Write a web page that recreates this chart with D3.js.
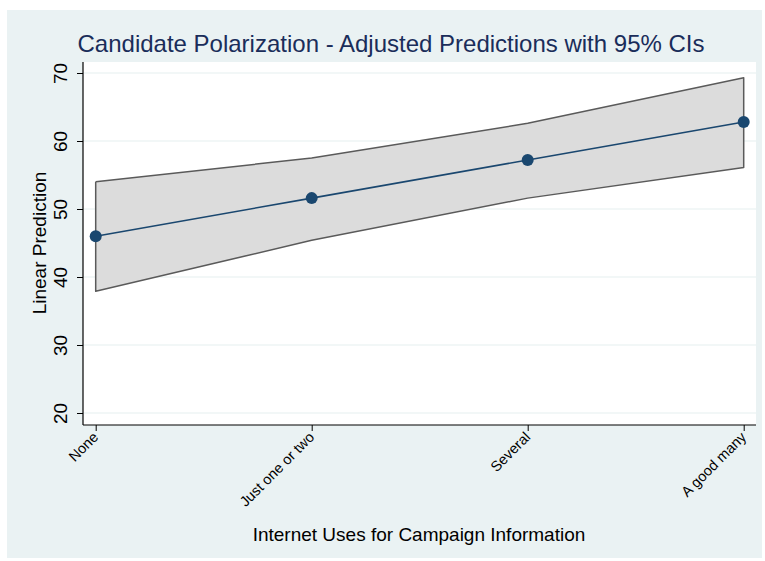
<!DOCTYPE html>
<html>
<head>
<meta charset="utf-8">
<script src="https://cdn.jsdelivr.net/npm/d3@7"></script>
<style>
  html, body { margin: 0; padding: 0; background: #ffffff; }
  svg { display: block; font-family: "Liberation Sans", Arial, Helvetica, sans-serif; }
</style>
</head>
<body>
<svg id="chart" width="765" height="561"></svg>
<script>
// Adjusted predictions of candidate polarization by internet use level
const categories = ["None", "Just one or two", "Several", "A good many"];
const predicted = [46.0, 51.6, 57.2, 62.8];
const ciUpper = [54.0, 57.5, 62.6, 69.3];
const ciLower = [37.9, 45.4, 51.6, 56.1];
const yTicks = [20, 30, 40, 50, 60, 70];

const svg = d3.select("#chart");
const FONT = "'Liberation Sans', Arial, Helvetica, sans-serif";

// Graph region background
svg.append("rect")
  .attr("x", 7).attr("y", 10)
  .attr("width", 755).attr("height", 548)
  .attr("fill", "#eaf2f3");

const plot = { left: 83, right: 756, top: 62, bottom: 425 };

svg.append("rect")
  .attr("x", plot.left).attr("y", plot.top)
  .attr("width", plot.right - plot.left).attr("height", plot.bottom - plot.top)
  .attr("fill", "#ffffff");

const x = d3.scalePoint()
  .domain(categories)
  .range([95.7, 743.7]);

const y = d3.scaleLinear()
  .domain([20, 70])
  .range([413, 73]);

// Horizontal grid lines
svg.append("g")
  .selectAll("line")
  .data(yTicks)
  .join("line")
  .attr("x1", plot.left).attr("x2", plot.right)
  .attr("y1", d => y(d)).attr("y2", d => y(d))
  .attr("stroke", "#e6f0f0")
  .attr("stroke-width", 1.2);

// Confidence band
const rows = categories.map((c, i) => ({ c, lo: ciLower[i], hi: ciUpper[i], p: predicted[i] }));
const band = d3.area()
  .x(d => x(d.c))
  .y0(d => y(d.lo))
  .y1(d => y(d.hi));

svg.append("path")
  .datum(rows)
  .attr("d", band)
  .attr("fill", "#dcdcdc")
  .attr("stroke", "none");

// Band outline (upper edge, right side, lower edge, left side)
const outline = d3.line().x(d => d[0]).y(d => d[1]);
const ring = rows.map(d => [x(d.c), y(d.hi)])
  .concat(rows.slice().reverse().map(d => [x(d.c), y(d.lo)]));
ring.push(ring[0]);
svg.append("path")
  .datum(ring)
  .attr("d", outline)
  .attr("fill", "none")
  .attr("stroke", "#5a5a5a")
  .attr("stroke-width", 1.5)
  .attr("stroke-linejoin", "round");

// Prediction line and markers
const navy = "#1a476f";
svg.append("path")
  .datum(rows)
  .attr("d", d3.line().x(d => x(d.c)).y(d => y(d.p)))
  .attr("fill", "none")
  .attr("stroke", navy)
  .attr("stroke-width", 1.6);

svg.append("g")
  .selectAll("circle")
  .data(rows)
  .join("circle")
  .attr("cx", d => x(d.c))
  .attr("cy", d => y(d.p))
  .attr("r", 6)
  .attr("fill", navy);

// Y axis
const yAxis = svg.append("g")
  .attr("transform", `translate(${plot.left},0)`)
  .call(d3.axisLeft(y).tickValues(yTicks).tickSize(6).tickSizeOuter(0).tickFormat(d3.format("d")));
yAxis.attr("font-size", null).attr("font-family", null);
yAxis.select(".domain").attr("d", `M0,${plot.top}V${plot.bottom}`).attr("stroke", "#000").attr("stroke-width", 1.2);
yAxis.selectAll(".tick line").attr("stroke", "#000").attr("stroke-width", 1);
yAxis.selectAll(".tick text")
  .attr("x", 0).attr("y", 0).attr("dy", 0)
  .attr("transform", "translate(-16,0) rotate(-90)")
  .attr("text-anchor", "middle")
  .attr("fill", "#000")
  .style("font-size", "19px")
  .style("font-family", FONT);

// X axis
const xAxis = svg.append("g")
  .attr("transform", `translate(0,${plot.bottom})`)
  .call(d3.axisBottom(x).tickSize(6).tickSizeOuter(0));
xAxis.attr("font-size", null).attr("font-family", null);
xAxis.select(".domain").attr("d", `M${plot.left},0H${plot.right}`).attr("stroke", "#000").attr("stroke-width", 1.2);
xAxis.selectAll(".tick line").attr("stroke", "#000").attr("stroke-width", 1);
xAxis.selectAll(".tick text")
  .attr("x", 0).attr("y", 0).attr("dy", 0)
  .attr("transform", "translate(3,13) rotate(-45)")
  .attr("text-anchor", "end")
  .attr("fill", "#000")
  .style("font-size", "14.5px")
  .style("font-family", FONT);

// Title
svg.append("text")
  .attr("x", 391).attr("y", 52)
  .attr("text-anchor", "middle")
  .attr("fill", "#1a2d5a")
  .style("font-size", "24px")
  .style("font-family", FONT)
  .text("Candidate Polarization - Adjusted Predictions with 95% CIs");

// Axis titles
svg.append("text")
  .attr("transform", "translate(46,243) rotate(-90)")
  .attr("text-anchor", "middle")
  .attr("fill", "#000")
  .style("font-size", "19px")
  .style("font-family", FONT)
  .text("Linear Prediction");

svg.append("text")
  .attr("x", 419).attr("y", 541)
  .attr("text-anchor", "middle")
  .attr("fill", "#000")
  .style("font-size", "19px")
  .style("font-family", FONT)
  .text("Internet Uses for Campaign Information");
</script>
</body>
</html>
